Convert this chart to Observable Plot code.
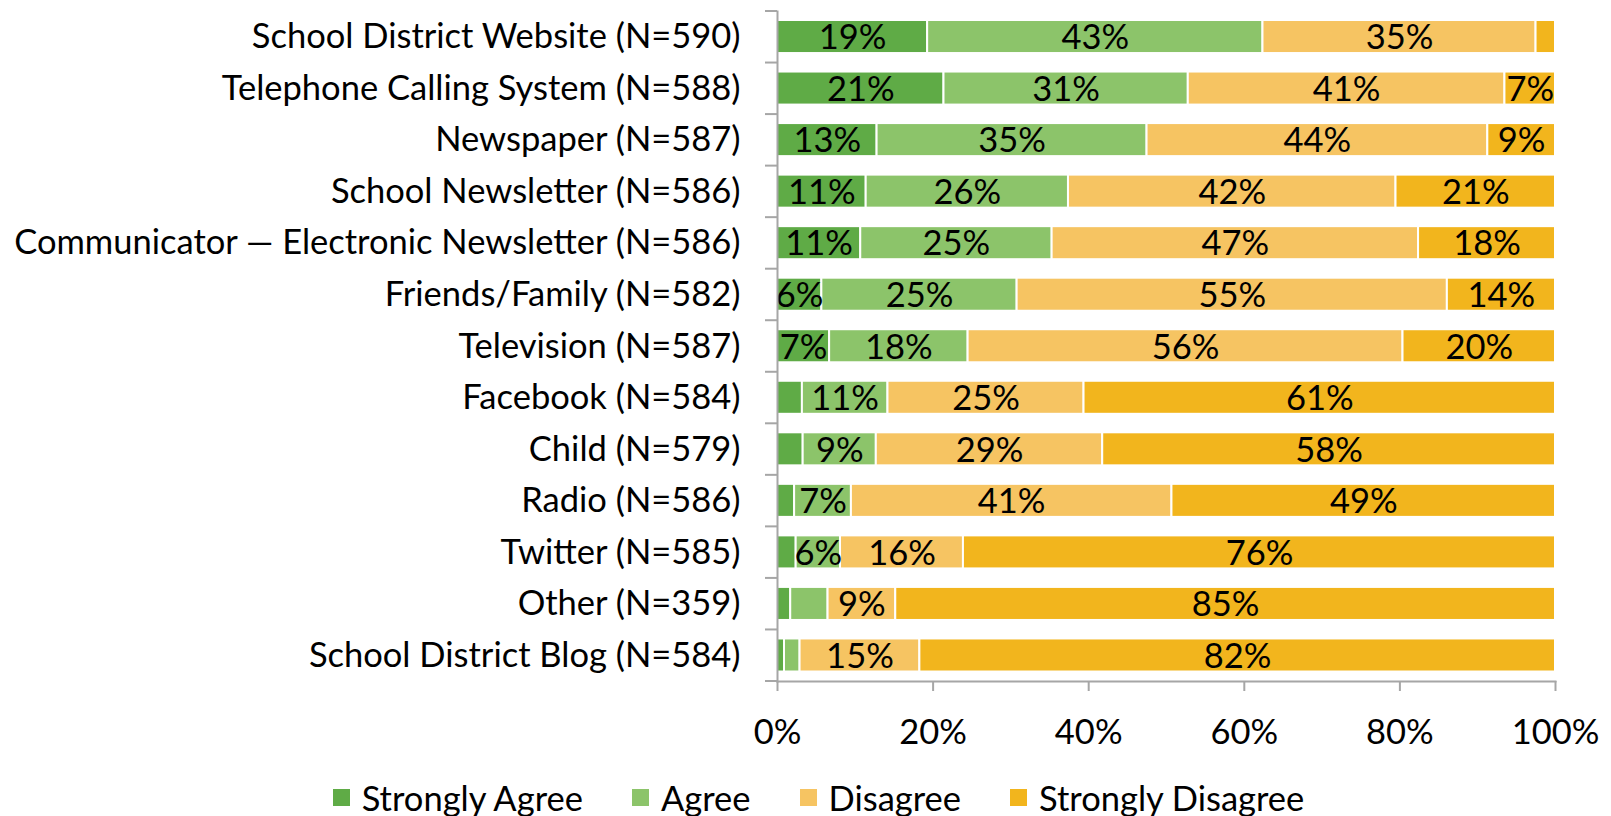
<!DOCTYPE html>
<html>
<head>
<meta charset="utf-8">
<script src="https://cdn.jsdelivr.net/npm/d3@7"></script>
<script src="https://cdn.jsdelivr.net/npm/@observablehq/plot@0.6"></script>
<style>
  html, body { margin: 0; padding: 0; background: #fff; }
  body { width: 1611px; height: 816px; overflow: hidden; font-family: Lato, "Noto Sans", sans-serif; }
  #legend { display: flex; justify-content: center; align-items: center; gap: 49px; height: 40px; margin-top: 17px; padding-left: 26px; font-size: 34.5px; color: #000; }
  .item { display: flex; align-items: center; gap: 12px; }
  .sw { width: 17px; height: 17px; display: inline-block; }
</style>
</head>
<body>
<div id="chart"></div>
<div id="legend"></div>
<script>
const categories = [
  "School District Website (N=590)",
  "Telephone Calling System (N=588)",
  "Newspaper (N=587)",
  "School Newsletter (N=586)",
  "Communicator — Electronic Newsletter (N=586)",
  "Friends/Family (N=582)",
  "Television (N=587)",
  "Facebook (N=584)",
  "Child (N=579)",
  "Radio (N=586)",
  "Twitter (N=585)",
  "Other (N=359)",
  "School District Blog (N=584)"
];
const levels = ["Strongly Agree", "Agree", "Disagree", "Strongly Disagree"];
const stronglyAgree    = [19.3, 21.4, 12.8, 11.4, 10.7,  5.7,  6.7,  3.2,  3.3,  2.2,  2.4,  1.7,  0.9];
const agree            = [43.1, 31.4, 34.7, 26.0, 24.6, 25.1, 17.8, 11.0,  9.4,  7.3,  5.7,  4.8,  2.0];
const disagree         = [35.1, 40.7, 43.8, 42.1, 47.1, 55.3, 55.9, 25.2, 29.1, 41.2, 15.8,  8.7, 15.4];
const stronglyDisagree = [ 2.5,  6.5,  8.7, 20.5, 17.6, 13.9, 19.6, 60.6, 58.2, 49.3, 76.1, 84.8, 81.7];
const xTicks = [0, 20, 40, 60, 80, 100];
const colors = ["#5fab46", "#8cc46a", "#f6c462", "#f2b51d"];

const series = [stronglyAgree, agree, disagree, stronglyDisagree];
const data = [];
categories.forEach((c, i) => {
  levels.forEach((l, j) => data.push({cat: c, level: l, value: series[j][i]}));
});

const FS = 34.5;
const axisGray = "#a6a6a6";

const chart = Plot.plot({
  width: 1611,
  height: 760,
  marginLeft: 777,
  marginRight: 56,
  marginTop: 11,
  marginBottom: 79,
  style: {fontFamily: "Lato, 'Noto Sans', sans-serif", fontSize: FS + "px", color: "#000", background: "#fff"},
  x: {domain: [0, 100]},
  y: {domain: categories, padding: 0, round: false},
  color: {domain: levels, range: colors},
  marks: [
    Plot.barX(data, Plot.stackX({x: "value", y: "cat", fill: "level", stroke: "white", strokeWidth: 2, insetTop: 9, insetBottom: 9.5})),
    Plot.textX(data, Plot.stackX({x: "value", y: "cat", z: "level", text: d => d.value >= 5 ? Math.round(d.value) + "%" : "", fill: "#000", fontSize: FS, dy: 1})),
    Plot.frame({anchor: "left", stroke: axisGray, strokeWidth: 2}),
    Plot.frame({anchor: "bottom", stroke: axisGray, strokeWidth: 2}),
    Plot.axisX({ticks: xTicks, tickFormat: d => d + "%", tickSize: 10, tickPadding: 28, stroke: axisGray, strokeWidth: 2, fill: "#000", fontSize: FS, label: null}),
    Plot.axisY({tickSize: 0, tickPadding: 37, fill: "#000", fontSize: FS, label: null})
  ]
});
document.getElementById("chart").appendChild(chart);

// category boundary tick marks on the y axis (between bands)
const ys = chart.scale("y");
const bounds = categories.map(c => ys.apply(c));
bounds.push(ys.apply(categories[categories.length - 1]) + ys.bandwidth);
const x0 = chart.scale("x").apply(0);
d3.select(chart).append("g")
  .attr("stroke", axisGray).attr("stroke-width", 2)
  .selectAll("line").data(bounds).join("line")
  .attr("x1", x0 - 12).attr("x2", x0)
  .attr("y1", d => d).attr("y2", d => d);

// legend
const leg = d3.select("#legend");
levels.forEach((l, j) => {
  const it = leg.append("div").attr("class", "item");
  it.append("span").attr("class", "sw").style("background", colors[j]);
  it.append("span").text(l);
});
</script>
</body>
</html>
